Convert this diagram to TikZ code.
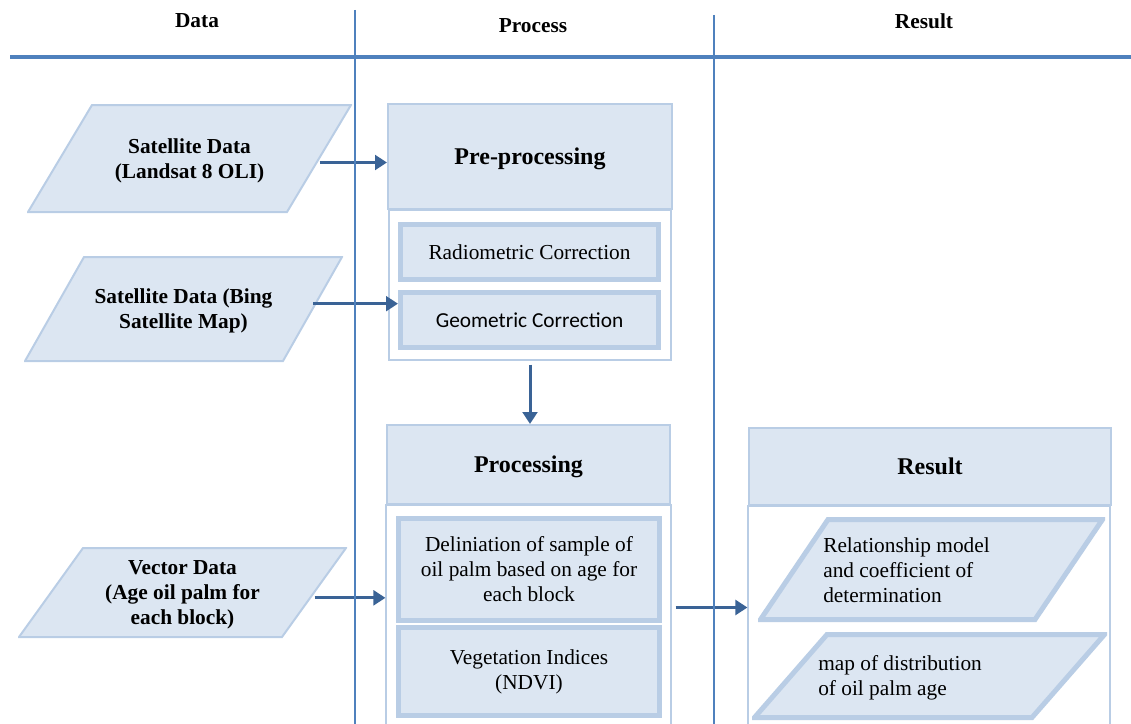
\documentclass[tikz,border=0pt]{standalone}
\usepackage{fontspec}
\setmainfont{Liberation Serif}
\newfontfamily\calibri{Carlito}
\usetikzlibrary{arrows.meta}
\definecolor{boxfill}{HTML}{DCE6F2}
\definecolor{boxline}{HTML}{B9CDE5}
\definecolor{arrowblue}{HTML}{3A6396}
\definecolor{laneblue}{HTML}{4F81BD}

\begin{document}
\begin{tikzpicture}[x=0.75pt,y=-0.75pt,>={Triangle[length=9pt,width=11pt]},
    head/.style={font=\fontsize{16}{19}\selectfont\bfseries},
    % slanted box drawn inside the node's rectangle: #1 = slant, #2 = border width
    slant/.style 2 args={inner sep=0pt,path picture={
      \draw[draw=boxline,fill=boxfill,line width=#2]
        ([shift={(#1,-#2/2)}]path picture bounding box.north west)
        -- ([shift={(-#2/2,-#2/2)}]path picture bounding box.north east)
        -- ([shift={(-#1,#2/2)}]path picture bounding box.south east)
        -- ([shift={(#2/2,#2/2)}]path picture bounding box.south west) -- cycle;}},
    datain/.style={slant={#1}{1.5pt},align=center,text depth=0pt,
      font=\fontsize{16}{18.75}\selectfont\bfseries},
    resout/.style={slant={#1}{3.75pt}},
    title/.style={draw=boxline,line width=1.5pt,fill=boxfill,text depth=0pt,
      font=\fontsize{18}{21}\selectfont\bfseries},
    frame/.style={draw=boxline,line width=0.8pt,fill=white},
    task/.style={draw=boxline,line width=3.75pt,fill=boxfill,align=center,
      font=\fontsize{16}{18.75}\selectfont},
    outtext/.style={anchor=west,align=left,inner sep=0pt,font=\fontsize{16}{18.75}\selectfont},
    flow/.style={draw=arrowblue,line width=2.25pt,->}]
    \useasboundingbox (0,0) rectangle (1131,724);

    % column headers
    \node[head] (hdata) at (197,21) {Data};
    \node[head] (hproc) at (533,26) {Process};
    \node[head] (hres) at (924,21) {Result};

    % data inputs
    \node[datain=48.75pt,minimum width=243.75pt,minimum height=81.75pt] (sat1) at (189.5,158.5)
      {Satellite Data\\(Landsat 8 OLI)};
    \node[datain=45pt,minimum width=239.25pt,minimum height=79.5pt] (sat2) at (183.5,309)
      {Satellite Data (Bing\\Satellite Map)};
    \node[datain=48.75pt,minimum width=246.75pt,minimum height=68.25pt] (vec) at (182.5,592.5)
      {Vector Data\\(Age oil palm for\\each block)};

    % pre-processing
    \node[frame,minimum width=211.5pt,minimum height=112.5pt] (prebox) at (530,285) {};
    \node[title,minimum width=213pt,minimum height=78.75pt] (pre) at (530,156.5) {Pre-processing};
    \node[task,minimum width=193.5pt,minimum height=41.25pt] (radio) at (529.5,252) {Radiometric Correction};
    \node[task,minimum width=193.5pt,minimum height=41.25pt] (geo) at (529.5,320) {\calibri\fontsize{16}{19}\selectfont Geometric Correction};

    % processing
    \node[frame,minimum width=213.75pt,minimum height=168.75pt] (procbox) at (528.5,617.5) {};
    \node[title,minimum width=212.25pt,minimum height=59.25pt] (proc) at (528.5,464.5) {Processing};
    \node[task,minimum width=195.75pt,minimum height=76.5pt] (delin) at (529,569)
      {Deliniation of sample of\\oil palm based on age for\\each block};
    \node[task,minimum width=195.75pt,minimum height=66pt] (veg) at (529,671.5)
      {Vegetation Indices\\(NDVI)};

    % result
    \node[frame,minimum width=271.5pt,minimum height=168pt] (resbox) at (929,618) {};
    \node[title,minimum width=271.5pt,minimum height=57.75pt] (res) at (930,466.5) {Result};
    \node[resout=52.5pt,minimum width=260.25pt,minimum height=78.75pt] (rel) at (931.5,569.5) {};
    \node[resout=56.25pt,minimum width=266.25pt,minimum height=66pt] (map) at (929.5,676) {};
    \node[outtext] (reltext) at (823,570) {Relationship model\\and coefficient of\\determination};
    \node[outtext] (maptext) at (818,677.5) {map of distribution\\of oil palm age};

    % connectors
    \draw[flow] ([xshift=-24.4pt,yshift=-3pt]sat1.east) -- ([yshift=-3pt]sat1.east -| pre.west);
    \draw[flow] ([xshift=-22.5pt,yshift=4pt]sat2.east) -- ([yshift=4pt]sat2.east -| geo.west);
    \draw[flow] ([yshift=-3pt]prebox.south) -- (prebox.south |- proc.north);
    \draw[flow] ([xshift=-24.4pt,yshift=-4pt]vec.east) -- ([yshift=-4pt]vec.east -| procbox.west);
    \coordinate (tap) at ([xshift=3pt,yshift=7.5pt]procbox.east);
    \draw[flow] (tap) -- (tap -| resbox.west);

    % lanes
    \draw[laneblue,line width=3pt] (10,57) -- (1131,57);
    \draw[laneblue,line width=1.1pt] (355,10) -- (355,724);
    \draw[laneblue,line width=1.1pt] (714,15) -- (714,724);
\end{tikzpicture}
\end{document}
